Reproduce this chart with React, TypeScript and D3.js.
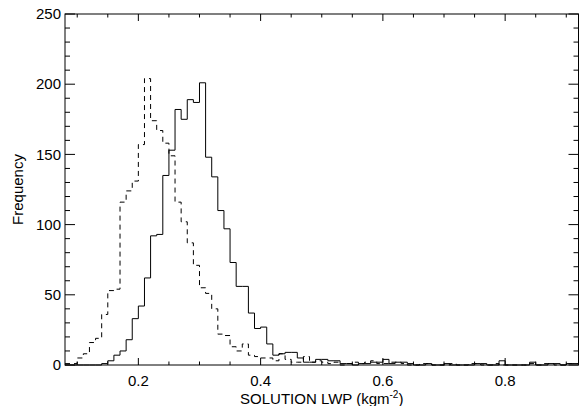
import React from "react";
import * as d3 from "d3";

// Histogram bins: left edges start at 0.08, width 0.01
const BIN_START = 0.08;
const BIN_WIDTH = 0.01;

const solidCounts = [
  0, 0, 0, 0, 0, 0, 1, 3, 7, 10,
  18, 33, 42, 62, 92, 93, 135, 153, 182, 175,
  189, 187, 201, 148, 134, 110, 97, 73, 56, 56,
  37, 26, 27, 15, 7, 8, 9, 9, 5, 2,
  2, 4, 4, 3, 3, 1, 1, 0, 1, 1,
  2, 2, 4, 1, 2, 2, 1, 0, 0, 1,
  0, 0, 1, 0, 0, 0, 0, 1, 1, 0,
  0, 3, 0, 0, 0, 0, 2, 0, 0, 1,
  1, 0, 1, 1,
];

const dashedCounts = [
  1, 1, 5, 8, 16, 19, 36, 53, 54, 116,
  124, 131, 157, 204, 174, 167, 158, 149, 116, 102,
  87, 71, 55, 51, 40, 22, 21, 13, 10, 15,
  7, 6, 5, 5, 3, 8, 4, 2, 2, 6,
  2, 3, 2, 1, 2, 0, 1, 2, 1, 2,
  3, 1, 1, 2, 2, 1, 0, 0, 1, 1,
  0, 0, 0, 1, 0, 0, 1, 1, 0, 0,
  1, 0, 0, 0, 0, 0, 1, 0, 1, 1,
  0, 0, 1, 1,
];

const xMajorTicks = [0.2, 0.4, 0.6, 0.8];
const xMajorLabels = ["0.2", "0.4", "0.6", "0.8"];
const yMajorTicks = [0, 50, 100, 150, 200, 250];
const yMajorLabels = ["0", "50", "100", "150", "200", "250"];

const X_DOMAIN: [number, number] = [0.08, 0.92];
const Y_DOMAIN: [number, number] = [0, 250];

const W = 582;
const H = 406;
const L = 65;
const R = 578.5;
const T = 14;
const B = 365;

const FONT = "'Liberation Sans', Arial, Helvetica, sans-serif";

export default function App() {
  const x = d3.scaleLinear().domain(X_DOMAIN).range([L, R]);
  const y = d3.scaleLinear().domain(Y_DOMAIN).range([B, T]);

  const toPoints = (vals: number[]) => {
    const pts: [number, number][] = vals.map((v, i) => [BIN_START + i * BIN_WIDTH, v]);
    pts.push([BIN_START + vals.length * BIN_WIDTH, vals[vals.length - 1]]);
    return pts;
  };

  const line = d3
    .line<[number, number]>()
    .x((d) => x(Math.min(d[0], X_DOMAIN[1])))
    .y((d) => y(d[1]))
    .curve(d3.curveStepAfter);

  const xMinor = d3.range(0.1, 0.9001, 0.05).filter(
    (t) => !xMajorTicks.some((m) => Math.abs(m - t) < 1e-6)
  );
  const yMinor = d3.range(0, 250.001, 10).filter((t) => t % 50 !== 0);

  const xMajLen = 7;
  const xMinLen = 3.5;
  const yMajLen = 10;
  const yMinLen = 5;

  return (
    <svg
      width={W}
      height={H}
      style={{ position: "absolute", left: 0, top: 0, background: "#fff" }}
      fontFamily={FONT}
    >
      <rect x={0} y={0} width={W} height={H} fill="#fff" />
      <g stroke="#000" strokeWidth={1} fill="none">
        {xMajorTicks.map((t) => (
          <g key={"xm" + t}>
            <line x1={x(t)} x2={x(t)} y1={B} y2={B - xMajLen} />
            <line x1={x(t)} x2={x(t)} y1={T} y2={T + xMajLen} />
          </g>
        ))}
        {xMinor.map((t) => (
          <g key={"xn" + t}>
            <line x1={x(t)} x2={x(t)} y1={B} y2={B - xMinLen} />
            <line x1={x(t)} x2={x(t)} y1={T} y2={T + xMinLen} />
          </g>
        ))}
        {yMajorTicks.map((t) => (
          <g key={"ym" + t}>
            <line x1={L} x2={L + yMajLen} y1={y(t)} y2={y(t)} />
            <line x1={R} x2={R - yMajLen} y1={y(t)} y2={y(t)} />
          </g>
        ))}
        {yMinor.map((t) => (
          <g key={"yn" + t}>
            <line x1={L} x2={L + yMinLen} y1={y(t)} y2={y(t)} />
            <line x1={R} x2={R - yMinLen} y1={y(t)} y2={y(t)} />
          </g>
        ))}
        <path d={line(toPoints(dashedCounts)) || ""} strokeDasharray="5,4" />
        <path d={line(toPoints(solidCounts)) || ""} />
        <rect x={L} y={T} width={R - L} height={B - T} />
      </g>
      <g fontSize={15} fill="#000">
        {xMajorTicks.map((t, i) => (
          <text key={"xl" + t} x={x(t)} y={386} textAnchor="middle">
            {xMajorLabels[i]}
          </text>
        ))}
        {yMajorTicks.map((t, i) => (
          <text key={"yl" + t} x={L - 4} y={y(t)} dy="0.35em" textAnchor="end">
            {yMajorLabels[i]}
          </text>
        ))}
        <text x={(L + R) / 2} y={403.5} textAnchor="middle">
          SOLUTION LWP (kgm
          <tspan fontSize={10} dy={-6}>-2</tspan>
          <tspan dy={6}>)</tspan>
        </text>
        <text
          transform={`translate(23, ${(T + B) / 2}) rotate(-90)`}
          textAnchor="middle"
        >
          Frequency
        </text>
      </g>
    </svg>
  );
}
